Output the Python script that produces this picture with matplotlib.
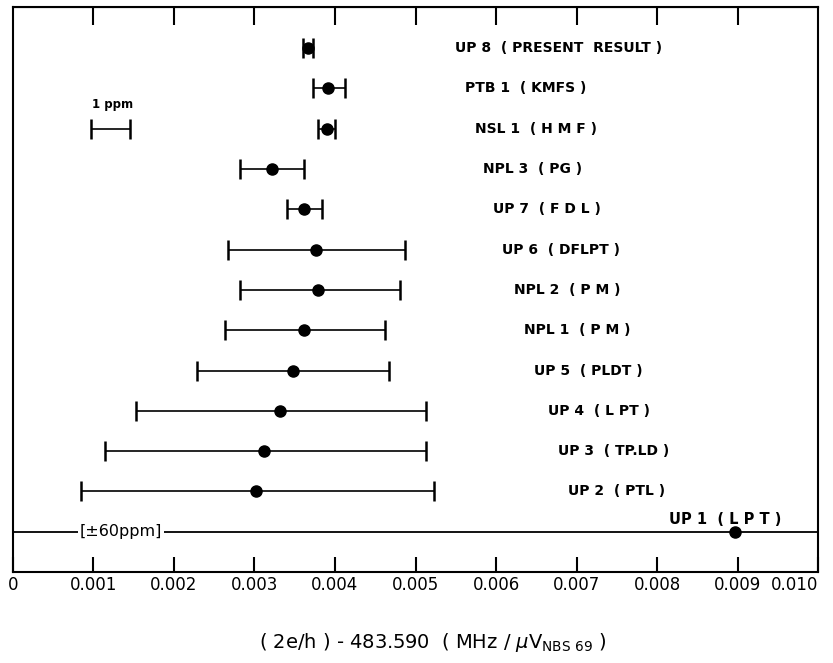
import matplotlib.pyplot as plt

# comparison of 2e/h results, offset from 483.590 MHz/uV(NBS 69)
labels = ['UP 8  ( PRESENT  RESULT )', 'PTB 1  ( KMFS )', 'NSL 1  ( H M F )',
          'NPL 3  ( PG )', 'UP 7  ( F D L )', 'UP 6  ( DFLPT )', 'NPL 2  ( P M )',
          'NPL 1  ( P M )', 'UP 5  ( PLDT )', 'UP 4  ( L PT )', 'UP 3  ( TP.LD )',
          'UP 2  ( PTL )']
values = [0.00367, 0.00391, 0.00390, 0.00322, 0.00362, 0.00376, 0.00379,
          0.00362, 0.00348, 0.00332, 0.00312, 0.00302]
low = [0.00360, 0.00373, 0.00379, 0.00282, 0.00340, 0.00267, 0.00282,
       0.00263, 0.00229, 0.00153, 0.00114, 0.00084]
high = [0.00373, 0.00412, 0.00400, 0.00361, 0.00384, 0.00487, 0.00481,
        0.00462, 0.00467, 0.00513, 0.00513, 0.00523]

up1_value = 0.00897
ppm = 483.59e-6   # 1 ppm of 483.59 MHz/uV
ticks = [0, 0.001, 0.002, 0.003, 0.004, 0.005, 0.006, 0.007, 0.008, 0.009, 0.010]
tick_labels = ['0', '0.001', '0.002', '0.003', '0.004', '0.005', '0.006',
               '0.007', '0.008', '0.009', '0.010']

# where the row labels start (placed by hand in the original)
label_x = [0.00549, 0.00561, 0.00574, 0.00584, 0.00596, 0.00607, 0.00622,
           0.00635, 0.00647, 0.00665, 0.00677, 0.00689]

fig = plt.figure(figsize=(8.33, 6.63), dpi=100)
ax = fig.add_axes([0.0156, 0.1373, 0.9664, 0.852])

n = len(labels)
rows = [n + 1 - i for i in range(n)]   # top row 13, UP 1 at 1

for y, v, lo, hi, lab, lx in zip(rows, values, low, high, labels, label_x):
    ax.errorbar(v, y, xerr=[[v - lo], [hi - v]], fmt='o', color='black',
                markersize=8, elinewidth=1.2, capsize=7.5, capthick=1.8)
    ax.text(lx, y, lab, fontsize=10, fontweight='bold', va='center', ha='left')

# UP 1 runs off the scale: line across the whole plot
ax.axhline(1, color='black', lw=1.3)
ax.plot(up1_value, 1, 'o', color='black', markersize=8)
ax.text(0.00815, 1.3, 'UP 1  ( L P T )', fontsize=10.5, fontweight='bold', va='center', ha='left')
ax.text(0.00083, 1, '[±60ppm]', fontsize=11.5, va='center', ha='left',
        bbox=dict(facecolor='white', edgecolor='none', pad=1))

# 1 ppm scale bar
ax.errorbar(0.00097 + ppm / 2, rows[2], xerr=ppm / 2, fmt='none', color='black',
            elinewidth=1.2, capsize=7.5, capthick=1.8)
ax.text(0.00098, rows[2] + 0.6, '1 ppm', fontsize=8.5, fontweight='bold', va='center', ha='left')

ax.set_xlim(0, 0.010)
ax.set_ylim(0, 14.02)
ax.set_yticks([])
ax.set_xticks(ticks)
ax.set_xticklabels(tick_labels, fontsize=12)
ax.tick_params(axis='x', direction='in', length=11, width=1.5, pad=3, top=False)
ax.xaxis.get_ticklabels()[-1].set_horizontalalignment('right')

# top ticks are longer in the original
top = ax.secondary_xaxis('top')
top.set_xticks(ticks[1:-1])
top.set_xticklabels([])
top.tick_params(direction='in', length=13, width=1.5)

for s in ax.spines.values():
    s.set_linewidth(1.5)

fig.text(0.52, 1 - 642 / 663, r'( 2e/h ) - 483.590  ( MHz / $\mu$V$_{\mathregular{NBS\ 69}}$ )',
         fontsize=14, ha='center', va='center')

fig.savefig('out.png', dpi=100)
